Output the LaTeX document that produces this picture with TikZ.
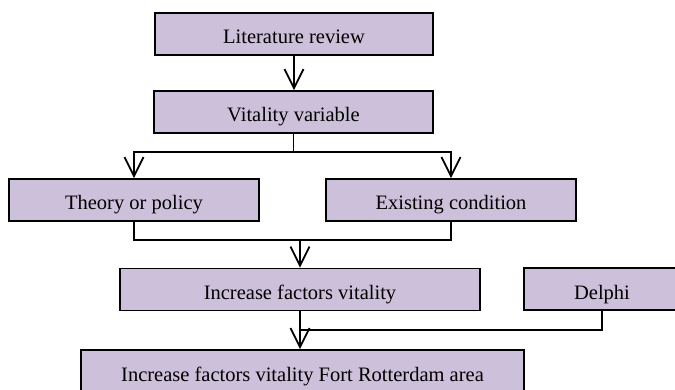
\documentclass[tikz,border=0pt]{standalone}
\usepackage{fontspec}
\setmainfont{Liberation Serif}
\definecolor{boxfill}{RGB}{204, 192, 218}
\usetikzlibrary{arrows.meta,positioning,calc}

\begin{document}
\begin{tikzpicture}[x=1pt,y=-1pt,
		box/.style={rectangle,draw=black,fill=boxfill,line width=1.8pt,
			inner xsep=0pt,inner ysep=0pt,text height=31pt,text depth=11pt,
			font=\fontsize{20.5}{24}\selectfont},
		conn/.style={line width=1.8pt},
		arr/.style={conn,-{Straight Barb[length=19pt,width=19pt,line width=1.8pt]}}]
		\useasboundingbox (0,0) rectangle (675,390);
		% boxes
		\node[box,minimum width=278pt] (lit) at (294,34) {Literature review};
		\node[box,minimum width=279pt] (var) at (293.5,112) {Vitality variable};
		\node[box,minimum width=250pt] (theory) at (134,200) {Theory or policy};
		\node[box,minimum width=250pt] (exist) at (451,200) {Existing condition};
		\node[box,minimum width=360pt] (incr) at (300,289.5) {Increase factors vitality};
		\node[box,minimum width=156pt] (delphi) at (602,289) {Delphi};
		\node[box,minimum width=443pt] (final) at (302.5,371) {Increase factors vitality Fort Rotterdam area};
		% connectors
		\draw[arr] (lit.south) -- (lit.south |- var.north);
		\draw[conn] (var.south) -- ++(0,18) coordinate (split);
		\draw[arr] (split) -| (theory.north);
		\draw[arr] (split) -| (exist.north);
		\draw[conn] (theory.south) -- ++(0,18) coordinate (merge) -| (exist.south);
		\draw[arr] (merge -| incr.north) -- (incr.north);
		\draw[conn] (delphi.south) -- ++(0,19) -| (incr.south);
		\draw[arr] (incr.south) -- (incr.south |- final.north);
	\end{tikzpicture}
\end{document}
